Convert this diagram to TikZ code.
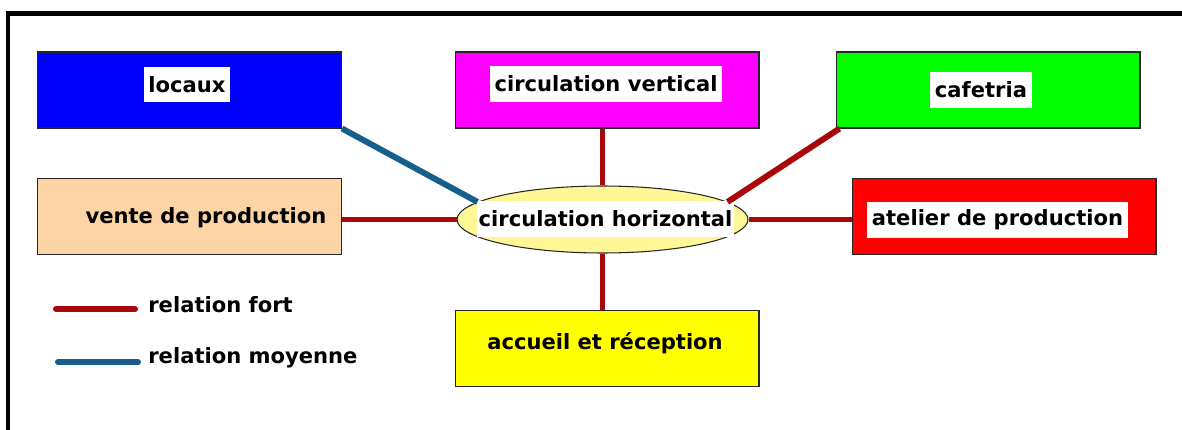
\documentclass[tikz,border=0pt]{standalone}
\usepackage{fontspec}
\setmainfont{DejaVu Sans}
\usetikzlibrary{shapes.geometric}

\definecolor{fortred}{RGB}{170,8,8}
\definecolor{moyblue}{RGB}{22,95,140}
\definecolor{peach}{RGB}{252,212,165}
\definecolor{ellfill}{RGB}{255,246,150}
\definecolor{zblue}{RGB}{0,0,255}
\definecolor{zmagenta}{RGB}{255,0,255}
\definecolor{zgreen}{RGB}{0,255,0}
\definecolor{zred}{RGB}{255,0,0}
\definecolor{zyellow}{RGB}{255,255,0}

\tikzset{
  zone/.style={draw=black!85, line width=0.6pt, minimum width=6.08cm, minimum height=1.52cm, inner sep=0pt},
  tag/.style={fill=white, inner xsep=0.09cm, inner ysep=0pt, minimum height=0.72cm, font=\bfseries\fontsize{12}{14}\selectfont},
  txt/.style={inner sep=0pt, font=\bfseries\fontsize{12}{14}\selectfont},
  fort/.style={draw=fortred, line width=3.4pt},
  moy/.style={draw=moyblue, line width=3.4pt},
}

\begin{document}
\begin{tikzpicture}[x=0.02cm,y=-0.02cm]
  \useasboundingbox[fill=white] (0,0) rectangle (1182,429);
  \draw[line width=2.3pt] (8,13.5) rectangle (1210,460);

  % boxes
  \node[zone,fill=zblue] (loc) at (189.5,90) {};
  \node[zone,fill=zmagenta] (vert) at (607,90) {};
  \node[zone,fill=zgreen] (cafe) at (988,90) {};
  \node[zone,fill=peach] (vente) at (189.5,216.5) {};
  \node[zone,fill=zred] (atel) at (1004,216.5) {};
  \node[zone,fill=zyellow] (acc) at (607,348.5) {};
  \node[ellipse,draw=black!85,line width=0.6pt,fill=ellfill,minimum width=5.82cm,minimum height=1.34cm,inner sep=0pt] (hor) at (602.5,219.5) {};

  % labels
  \node[tag] (locT) at (187,84.5) {locaux};
  \node[tag] (vertT) at (606,84) {circulation vertical};
  \node[tag] (cafeT) at (981,90) {cafetria};
  \node[txt] (venteT) at (206,218) {vente de production};
  \node[tag] (atelT) at (997.5,220) {atelier de production};
  \node[txt] (accT) at (605,343) {accueil et réception};
  \node[tag,inner xsep=0.04cm] (horT) at (605.5,219) {circulation horizontal};

  % relations
  \draw[moy] (loc.south east) -- (hor.172);
  \draw[fort] (hor.north) -- (hor.north |- vert.south);
  \draw[fort] ([xshift=0.08cm]cafe.south west) -- (hor.8);
  \draw[fort] (hor.west) -- (hor.west -| vente.east);
  \draw[fort] (hor.east) -- (hor.east -| atel.west);
  \draw[fort] (hor.south) -- (hor.south |- acc.north);

  % legend
  \coordinate (f1) at (56,309);
  \coordinate (f2) at (135,309);
  \coordinate (m1) at (58,362);
  \coordinate (m2) at (138,362);
  \draw[fort,line cap=round] (f1) -- (f2);
  \draw[moy,line cap=round] (m1) -- (m2);
  \node[txt,anchor=west] (fortT) at (148,305) {relation fort};
  \node[txt,anchor=west] (moyT) at (148,358) {relation moyenne};
\end{tikzpicture}
\end{document}
